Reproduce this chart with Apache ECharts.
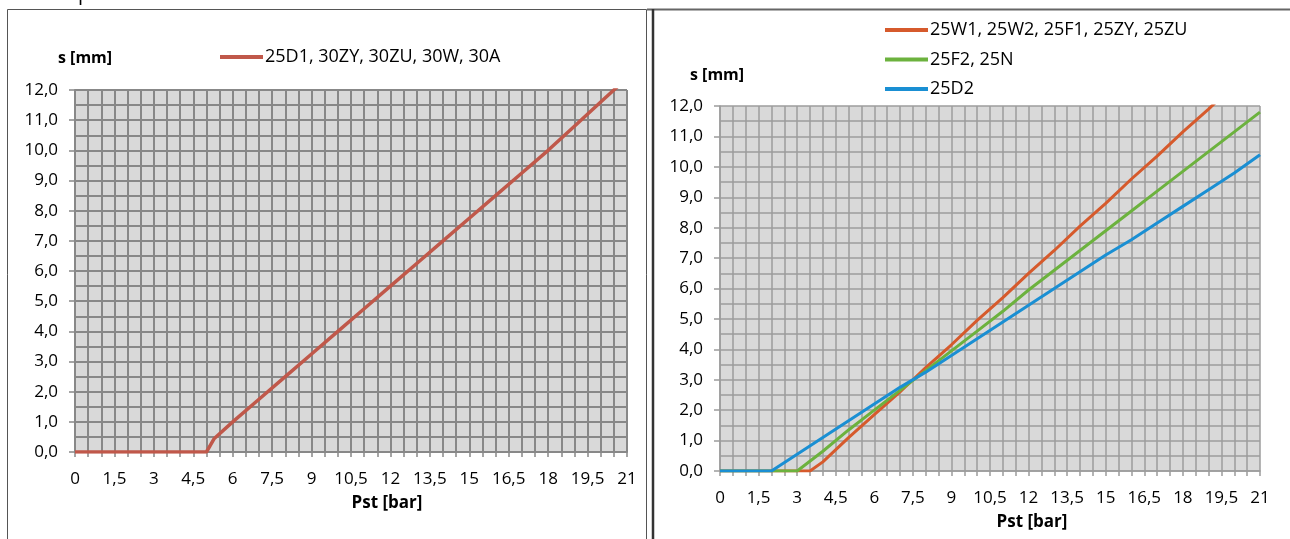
<!DOCTYPE html>
<html>
<head>
<meta charset="utf-8">
<script src="https://cdn.jsdelivr.net/npm/echarts@6/dist/echarts.min.js"></script>
<style>
html,body{margin:0;padding:0;background:#fff;}
#c{width:1290px;height:539px;}
</style>
</head>
<body>
<div id="c"></div>
<script>
// ---- Data ----
const leftName = '25D1, 30ZY, 30ZU, 30W, 30A';
const leftX = [0, 1, 2, 3, 4, 5, 5.3, 6, 7, 8, 9, 10, 11, 12, 13, 14, 15, 16, 17, 18, 19, 20, 21];
const leftS = [0, 0, 0, 0, 0, 0, 0.45, 1.0, 1.75, 2.5, 3.25, 4.0, 4.75, 5.5, 6.25, 7.0, 7.75, 8.5, 9.25, 10.0, 10.8, 11.6, 12.4];

const rightNames = ['25W1, 25W2, 25F1, 25ZY, 25ZU', '25F2, 25N', '25D2'];
const orangeX = [0, 3.5, 4, 5, 6, 7, 7.5, 8, 9, 10, 11, 12, 13, 14, 15, 16, 17, 18, 19, 20, 21];
const orangeS = [0, 0, 0.3, 1.1, 1.85, 2.6, 3.0, 3.4, 4.15, 4.95, 5.7, 6.5, 7.25, 8.05, 8.8, 9.6, 10.35, 11.15, 11.9, 12.7, 13.45];
const greenX = [0, 3, 4, 5, 6, 7, 8, 9, 10, 11, 12, 13, 14, 15, 16, 17, 18, 19, 20, 21];
const greenS = [0, 0, 0.65, 1.35, 2.0, 2.65, 3.3, 3.95, 4.6, 5.25, 5.95, 6.6, 7.25, 7.9, 8.55, 9.2, 9.85, 10.5, 11.15, 11.8];
const blueX = [0, 2, 3, 4, 5, 6, 7, 8, 9, 10, 11, 12, 13, 14, 15, 16, 17, 18, 19, 20, 21];
const blueS = [0, 0, 0.55, 1.1, 1.65, 2.2, 2.75, 3.25, 3.8, 4.35, 4.9, 5.45, 6.0, 6.55, 7.1, 7.6, 8.15, 8.7, 9.25, 9.8, 10.4];

const yTitle = 's [mm]';
const xTitle = 'Pst [bar]';
// ---- End data ----

const zip = (xs, ys) => xs.map((x, i) => [x, ys[i]]);
const FONT = 'Open Sans';
const FS = 17;
const LFS = 18;
const fmtX = v => String(v).replace('.', ',');
const fmtY = v => v.toFixed(1).replace('.', ',');

function xAxisFor(gi, gridColor, gw, margin) {
  return {
    type: 'value', gridIndex: gi, min: 0, max: 21, interval: 1.5,
    axisLine: {show: true, lineStyle: {color: gridColor, width: gw}},
    axisTick: {show: true, length: 5, lineStyle: {color: gridColor, width: 1.5}},
    minorTick: {show: true, splitNumber: 3, length: 5, lineStyle: {color: gridColor, width: 1.5}},
    axisLabel: {formatter: fmtX, fontFamily: FONT, fontSize: FS, color: '#000', margin: margin},
    splitLine: {show: true, lineStyle: {color: gridColor, width: gw}},
    minorSplitLine: {show: true, lineStyle: {color: gridColor, width: gw}}
  };
}
function yAxisFor(gi, gridColor, gw) {
  return {
    type: 'value', gridIndex: gi, min: 0, max: 12, interval: 1,
    axisLine: {show: true, lineStyle: {color: gridColor, width: gw}},
    axisTick: {show: true, length: 6, lineStyle: {color: gridColor, width: 1.5}},
    minorTick: {show: false, splitNumber: 2},
    axisLabel: {formatter: fmtY, fontFamily: FONT, fontSize: FS, color: '#000', margin: 17},
    splitLine: {show: true, lineStyle: {color: gridColor, width: gw}},
    minorSplitLine: {show: true, lineStyle: {color: gridColor, width: gw}}
  };
}

const chart = echarts.init(document.getElementById('c'), null, {renderer: 'canvas'});
const lineCommon = {type: 'line', showSymbol: false, symbol: 'none', clip: true, smooth: false};

chart.setOption({
  animation: false,
  backgroundColor: '#fff',
  grid: [
    {left: 75, top: 90, width: 552, height: 362, show: true, backgroundColor: '#d9d9d9', borderWidth: 0},
    {left: 720, top: 106, width: 540, height: 365, show: true, backgroundColor: '#d9d9d9', borderWidth: 0}
  ],
  xAxis: [xAxisFor(0, '#888888', 2, 19), xAxisFor(1, '#9c9c9c', 1.5, 19)],
  yAxis: [yAxisFor(0, '#888888', 2), yAxisFor(1, '#9c9c9c', 1.5)],
  legend: [
    {
      data: [leftName], left: 220, top: 46, padding: 0, itemWidth: 43, itemHeight: 4, icon: 'rect', itemGap: 10,
      textStyle: {fontFamily: FONT, fontSize: LFS, color: '#000', lineHeight: 22, padding: [0, 0, 0, -3]}
    },
    {
      data: rightNames, orient: 'vertical', left: 885, top: 19, padding: 0, itemWidth: 43, itemHeight: 4, icon: 'rect', itemGap: 7.5,
      textStyle: {fontFamily: FONT, fontSize: LFS, color: '#000', lineHeight: 22, padding: [0, 0, 0, -3]}
    }
  ],
  series: [
    Object.assign({}, lineCommon, {name: leftName, xAxisIndex: 0, yAxisIndex: 0, data: zip(leftX, leftS),
      color: '#c0584a', lineStyle: {color: '#c0584a', width: 3.5}}),
    Object.assign({}, lineCommon, {name: rightNames[0], xAxisIndex: 1, yAxisIndex: 1, data: zip(orangeX, orangeS),
      color: '#d65a2c', lineStyle: {color: '#d65a2c', width: 3}}),
    Object.assign({}, lineCommon, {name: rightNames[1], xAxisIndex: 1, yAxisIndex: 1, data: zip(greenX, greenS),
      color: '#6cb23e', lineStyle: {color: '#6cb23e', width: 3}}),
    Object.assign({}, lineCommon, {name: rightNames[2], xAxisIndex: 1, yAxisIndex: 1, data: zip(blueX, blueS),
      color: '#1a8fd3', lineStyle: {color: '#1a8fd3', width: 3}})
  ],
  graphic: [
    {type: 'rect', shape: {x: 7.5, y: 9.5, width: 639, height: 540}, style: {fill: 'none', stroke: '#555', lineWidth: 1}, silent: true},
    {type: 'line', shape: {x1: 647, y1: 9.5, x2: 1290, y2: 9.5}, style: {stroke: '#666', lineWidth: 2}, silent: true},
    {type: 'line', shape: {x1: 653, y1: 9, x2: 653, y2: 539}, style: {stroke: '#333', lineWidth: 2.5}, silent: true},
    {type: 'text', x: 78, y: -16, style: {text: 'p', font: '20px "Open Sans"', fill: '#000'}, silent: true},
    {type: 'text', x: 58, y: 58, style: {text: yTitle, font: 'bold 16px "Open Sans"', fill: '#000', verticalAlign: 'middle'}},
    {type: 'text', x: 690, y: 75, style: {text: yTitle, font: 'bold 16px "Open Sans"', fill: '#000', verticalAlign: 'middle'}},
    {type: 'text', x: 387, y: 503, style: {text: xTitle, font: 'bold 17px "Open Sans"', fill: '#000', align: 'center', verticalAlign: 'middle'}},
    {type: 'text', x: 1032, y: 522, style: {text: xTitle, font: 'bold 17px "Open Sans"', fill: '#000', align: 'center', verticalAlign: 'middle'}}
  ]
});
</script>
</body>
</html>
